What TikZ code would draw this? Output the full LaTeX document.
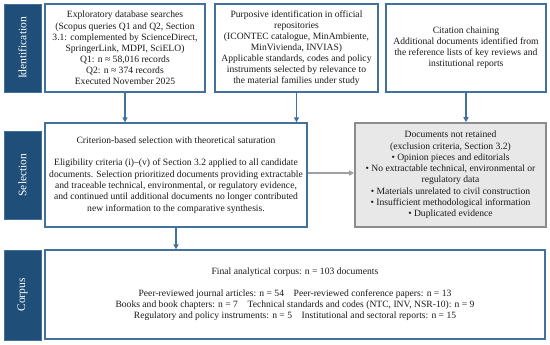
\documentclass[tikz,border=0pt]{standalone}
\usepackage{fontspec}
\setmainfont{Liberation Serif}
\usetikzlibrary{arrows.meta}
\definecolor{sidefill}{HTML}{1F4E79}
\definecolor{boxline}{HTML}{41719C}
\definecolor{exfill}{HTML}{E8E8E8}
\definecolor{exline}{HTML}{8C8C8C}
\definecolor{grayarrow}{HTML}{A0A0A0}
\definecolor{bodytext}{HTML}{1A1A1A}
\begin{document}
\begin{tikzpicture}[x=1pt,y=-1pt,
  sidelab/.style={rectangle,fill=sidefill,draw=boxline,line width=0.8pt,minimum width=37pt,inner sep=0pt,text=white,font=\fontsize{11.5}{13}\selectfont},
  stagebox/.style={rectangle,draw=boxline,line width=1.3pt,fill=white,inner sep=0pt,align=center,text=bodytext,font=\fontsize{9.6}{11.1}\selectfont},
  exbox/.style={rectangle,draw=exline,line width=1.6pt,fill=exfill,inner sep=0pt,align=center,text=bodytext,font=\fontsize{9.6}{11.3}\selectfont},
  flow/.style={draw=boxline,line width=1.3pt,-{Triangle[length=5pt,width=5pt]}},
  grayflow/.style={draw=grayarrow,line width=1.1pt,-{Triangle[length=5pt,width=5pt]}}
]
\useasboundingbox (0,0) rectangle (550,345);
% side labels
\node[sidelab,minimum height=88pt] (idlab) at (22.5,48) {\rotatebox{90}{Identification}};
\node[sidelab,minimum height=88pt] (sellab) at (22.5,175) {\rotatebox{90}{Selection}};
\node[sidelab,minimum height=90pt] (corplab) at (22.5,295) {\rotatebox{90}{Corpus}};
% identification boxes
\node[stagebox,minimum width=160pt,minimum height=88pt] (box1) at (125,48) {Exploratory database searches\\(Scopus queries Q1 and Q2, Section\\3.1: complemented by ScienceDirect,\\SpringerLink, MDPI, SciELO)\\Q1: n ≈ 58,016 records\\Q2: n ≈ 374 records\\Executed November 2025};
\node[stagebox,minimum width=163pt,minimum height=88pt] (box2) at (296.5,48) {Purposive identification in official\\repositories\\(ICONTEC catalogue, MinAmbiente,\\MinVivienda, INVIAS)\\Applicable standards, codes and policy\\instruments selected by relevance to\\the material families under study};
\node[stagebox,minimum width=160pt,minimum height=88pt] (box3) at (466,48) {Citation chaining\\Additional documents identified from\\the reference lists of key reviews and\\institutional reports};
% selection
\node[stagebox,minimum width=262pt,minimum height=104pt,font=\fontsize{9.6}{11.3}\selectfont] (selbox) at (176,175) {Criterion-based selection with theoretical saturation\\[11pt]Eligibility criteria (i)–(v) of Section 3.2 applied to all candidate\\documents. Selection prioritized documents providing extractable\\and traceable technical, environmental, or regulatory evidence,\\and continued until additional documents no longer contributed\\new information to the comparative synthesis.};
\node[exbox,minimum width=191pt,minimum height=104pt] (exbox) at (450.5,175) {Documents not retained\\(exclusion criteria, Section 3.2)\\• Opinion pieces and editorials\\• No extractable technical, environmental or\\regulatory data\\• Materials unrelated to civil construction\\• Insufficient methodological information\\• Duplicated evidence};
% corpus
\node[stagebox,minimum width=500pt,minimum height=89pt,font=\fontsize{9.6}{11.4}\selectfont] (corpbox) at (295,294.5) {Final analytical corpus: n = 103 documents\\[10pt]Peer-reviewed journal articles: n = 54\quad Peer-reviewed conference papers: n = 13\\Books and book chapters: n = 7\quad Technical standards and codes (NTC, INV, NSR-10): n = 9\\Regulatory and policy instruments: n = 5\quad Institutional and sectoral reports: n = 15};
% connectors
\draw[flow] (box1.south) -- (box1.south |- selbox.north);
\draw[flow] (box2.south) -- (box2.south |- selbox.north);
\draw[flow] (box3.south) -- (box3.south |- exbox.north);
\draw[grayflow] ([yshift=2pt]selbox.east) -- ([yshift=2pt]exbox.west);
\draw[flow] (selbox.south) -- (selbox.south |- corpbox.north);
\end{tikzpicture}
\end{document}
